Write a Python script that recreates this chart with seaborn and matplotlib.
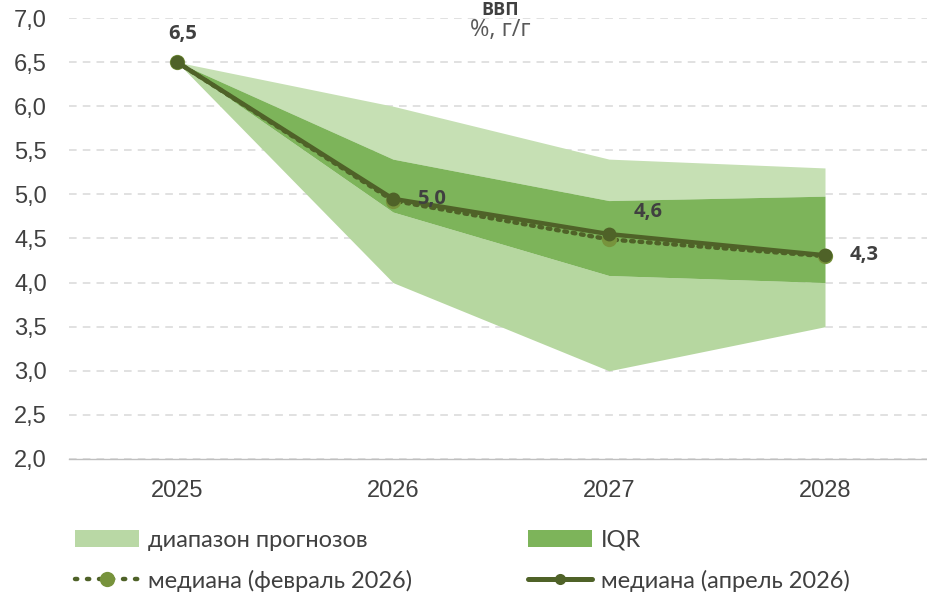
import matplotlib
matplotlib.use("Agg")
import matplotlib.pyplot as plt
import seaborn as sns
import pandas as pd
from matplotlib.patches import Patch
from matplotlib.lines import Line2D

years = ["2025", "2026", "2027", "2028"]
range_low = [6.5, 4.0, 3.0, 3.5]
range_high = [6.5, 6.0, 5.4, 5.3]
iqr_low = [6.5, 4.8, 4.08, 4.0]
iqr_high = [6.5, 5.4, 4.93, 4.98]
median_feb = [6.5, 4.93, 4.49, 4.3]
median_apr = [6.5, 4.95, 4.55, 4.31]
label_texts = ["6,5", "5,0", "4,6", "4,3"]
y_ticks = [2.0, 2.5, 3.0, 3.5, 4.0, 4.5, 5.0, 5.5, 6.0, 6.5, 7.0]

sns.set_style("white")
plt.rcParams["font.family"] = ["Liberation Sans", "DejaVu Sans"]

c_range_top = "#C6E0B4"
c_range_bot = "#B6D7A0"
c_range_leg = "#B9D8A5"
c_iqr = "#7DB45A"
c_apr = "#4F6228"
c_feb = "#77933C"
c_text = "#404040"

fig = plt.figure(figsize=(9.27, 5.96), dpi=100)
ax = fig.add_axes([69 / 927, 137 / 596, 864 / 927, 441 / 596])

x = list(range(len(years)))
ax.fill_between(x, iqr_high, range_high, color=c_range_top, lw=0, zorder=1)
ax.fill_between(x, range_low, iqr_low, color=c_range_bot, lw=0, zorder=1)
ax.fill_between(x, iqr_low, iqr_high, color=c_iqr, lw=0, zorder=2)

df = pd.DataFrame({"x": x, "feb": median_feb, "apr": median_apr})
sns.lineplot(data=df, x="x", y="feb", ax=ax, color=c_apr, lw=3.2,
             linestyle=(0, (0.6, 1.3)), dash_capstyle="round",
             marker="o", markersize=11, markeredgewidth=0,
             markerfacecolor=c_feb, zorder=3)
sns.lineplot(data=df, x="x", y="apr", ax=ax, color=c_apr, lw=3.2,
             marker="o", markersize=10, markeredgewidth=0, zorder=4)

offsets = [(4, 20), (28, 0), (28, 16), (28, 0)]
for xi, yi, t, off in zip(x, median_apr, label_texts, offsets):
    ax.annotate(t, (xi, yi), xytext=off, textcoords="offset points",
                ha="center", va="center", fontsize=14.5, fontweight="bold",
                color=c_text, family=["Open Sans", "DejaVu Sans"], zorder=6)

ax.set_xlim(-0.5, 3.5)
ax.set_ylim(2.0, 7.0)
ax.set_yticks(y_ticks)
ax.set_yticklabels([f"{v:.1f}".replace(".", ",") for v in y_ticks])
ax.set_xticks(x)
ax.set_xticklabels(years)
ax.set_xticks([-0.5, 0.5, 1.5, 2.5], minor=True)
ax.tick_params(axis="x", which="major", length=0, pad=15, labelsize=17, labelcolor=c_text)
ax.tick_params(axis="x", which="minor", length=5, color="#BFBFBF", width=1)
ax.tick_params(axis="y", length=0, pad=16, labelsize=17, labelcolor=c_text)
ax.set_xlabel("")
ax.set_ylabel("")
ax.grid(axis="y", color="#D9D9D9", linestyle=(0, (5, 4)), lw=1.1, zorder=0)
ax.set_axisbelow(True)
for s in ["left", "right", "top"]:
    ax.spines[s].set_visible(False)
ax.spines["bottom"].set_color("#BFBFBF")
ax.spines["bottom"].set_linewidth(1)

fig.text(500 / 927, 1 - 1 / 596, "ВВП", ha="center", va="top", fontsize=13,
         fontweight="bold", color=c_text, family=["Open Sans", "DejaVu Sans"])
fig.text(500 / 927, 1 - 30 / 596, "%, г/г", ha="center", va="center", fontsize=17,
         color="#595959", family=["Open Sans", "DejaVu Sans"])

h_range = Patch(facecolor=c_range_leg, edgecolor="none", label="диапазон прогнозов")
h_iqr = Patch(facecolor=c_iqr, edgecolor="none", label="IQR")
h_feb = Line2D([0], [0], color=c_apr, lw=3.2, linestyle=(0, (0.5, 2.2)),
               dash_capstyle="round", marker="o",
               markersize=11, markeredgewidth=0, markerfacecolor=c_feb,
               label="медиана (февраль 2026)")
h_apr = Line2D([0], [0], color=c_apr, lw=3.6, marker="o", markersize=8,
               markeredgewidth=0, label="медиана (апрель 2026)")

leg_prop = {"family": ["Liberation Sans Narrow", "Lato", "DejaVu Sans"], "size": 17}
for hs, xpx in [((h_range, h_feb), 75), ((h_iqr, h_apr), 528)]:
    leg = fig.legend(list(hs), [h.get_label() for h in hs], ncol=1, loc="upper left",
                     bbox_to_anchor=(xpx / 927, 1 - 530 / 596), borderpad=0,
                     borderaxespad=0, frameon=False, handlelength=2.7,
                     handleheight=0.7, labelspacing=0.78, handletextpad=0.4,
                     prop=leg_prop)
    for t in leg.get_texts():
        t.set_color(c_text)

fig.savefig("out.png", dpi=100)
